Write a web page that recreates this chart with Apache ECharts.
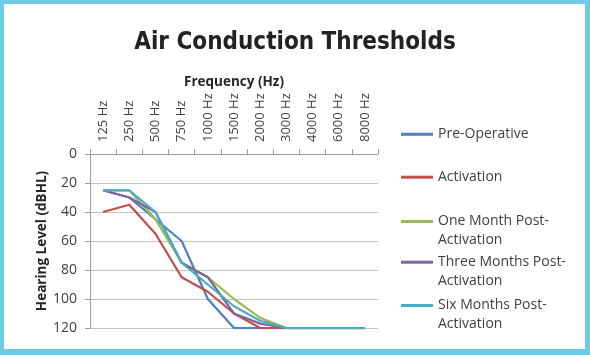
<!DOCTYPE html>
<html>
<head>
<meta charset="utf-8">
<script src="https://cdn.jsdelivr.net/npm/echarts@6/dist/echarts.min.js"></script>
<style>
html,body{margin:0;padding:0;background:#fff;}
#chart{position:absolute;left:0;top:0;width:590px;height:355px;}
#frame{position:absolute;left:0;top:0;width:590px;height:355px;box-sizing:border-box;border-style:solid;border-color:#6dcbe6;border-width:4px 5px 6px 4px;pointer-events:none;}
</style>
</head>
<body>
<div id="chart"></div>
<div id="frame"></div>
<script>
const categories = ['125 Hz','250 Hz','500 Hz','750 Hz','1000 Hz','1500 Hz','2000 Hz','3000 Hz','4000 Hz','6000 Hz','8000 Hz'];
const preOperative = [25, 30, 45, 60, 100, 120, 120, 120, 120, 120, 120];
const activation = [40, 35, 55, 85, 95, 110, 120, 120, 120, 120, 120];
const oneMonth = [25, 25, 45, 75, 85, 100, 113, 120, 120, 120, 120];
const threeMonths = [25, 30, 40, 75, 85, 110, 117, 120, 120, 120, 120];
const sixMonths = [25, 25, 40, 75, 90, 105, 115, 120, 120, 120, 120];
const yTicks = [0, 20, 40, 60, 80, 100, 120];

const seriesNames = ['Pre-Operative', 'Activation', 'One Month Post-\nActivation', 'Three Months Post-\nActivation', 'Six Months Post-\nActivation'];
const seriesData = [preOperative, activation, oneMonth, threeMonths, sixMonths];
const colors = ['#4F81BD', '#C0504D', '#9BBB59', '#8064A2', '#4BACC6'];

const font = '"Open Sans", "Liberation Sans", sans-serif';
const LH = 19;
const legendTops = [124.8, 167.7, 193, 233.7, 277];

const legends = seriesNames.map((n, i) => {
  const multi = n.indexOf('\n') >= 0;
  return {
    data: [n],
    orient: 'vertical',
    left: 401,
    top: legendTops[i],
    padding: 0,
    icon: 'rect',
    itemWidth: 32,
    itemHeight: 3,
    itemGap: 0,
    selectedMode: false,
    formatter: name => (multi ? '\n' + name : name),
    textStyle: {
      fontFamily: font,
      fontSize: 14,
      color: '#404040',
      lineHeight: LH
    }
  };
});

const chart = echarts.init(document.getElementById('chart'), null, {renderer: 'canvas'});
chart.setOption({
  animation: false,
  color: colors,
  title: {
    text: 'Air Conduction Thresholds',
    left: 'center',
    top: 23,
    textStyle: {
      fontFamily: '"Liberation Sans Narrow", "DejaVu Sans Condensed", "Liberation Sans", sans-serif',
      fontWeight: 'bold',
      fontSize: 24,
      lineHeight: 30,
      color: '#222222'
    }
  },
  legend: legends,
  grid: {left: 90, right: 212, top: 154, bottom: 27},
  xAxis: {
    type: 'category',
    position: 'top',
    data: categories,
    boundaryGap: true,
    name: 'Frequency (Hz)',
    nameLocation: 'middle',
    nameGap: 64,
    nameTextStyle: {fontFamily: font, fontWeight: 'bold', fontSize: 13.5, color: '#262626'},
    axisLine: {show: true, lineStyle: {color: '#9a9a9a', width: 1}},
    axisTick: {show: true, alignWithLabel: false, length: 5, lineStyle: {color: '#9a9a9a'}},
    axisLabel: {rotate: 90, margin: 12, fontFamily: font, fontSize: 13, color: '#404040', interval: 0},
    splitLine: {show: false}
  },
  yAxis: {
    type: 'value',
    inverse: true,
    min: 0,
    max: 120,
    interval: 20,
    name: 'Hearing Level (dBHL)',
    nameLocation: 'middle',
    nameGap: 41,
    nameTextStyle: {fontFamily: font, fontWeight: 'bold', fontSize: 13.5, color: '#262626'},
    axisLine: {show: true, lineStyle: {color: '#9a9a9a', width: 1}},
    axisTick: {show: true, length: 5, lineStyle: {color: '#9a9a9a'}},
    axisLabel: {margin: 13, fontFamily: font, fontSize: 14, color: '#404040',
      formatter: v => (yTicks.indexOf(v) >= 0 ? String(v) : '')},
    splitLine: {show: true, lineStyle: {color: '#c4c4c4', width: 1}}
  },
  series: seriesNames.map((n, i) => ({
    name: n,
    type: 'line',
    data: seriesData[i],
    symbol: 'none',
    lineStyle: {width: 2.25, color: colors[i]},
    itemStyle: {color: colors[i]}
  }))
});
</script>
</body>
</html>
